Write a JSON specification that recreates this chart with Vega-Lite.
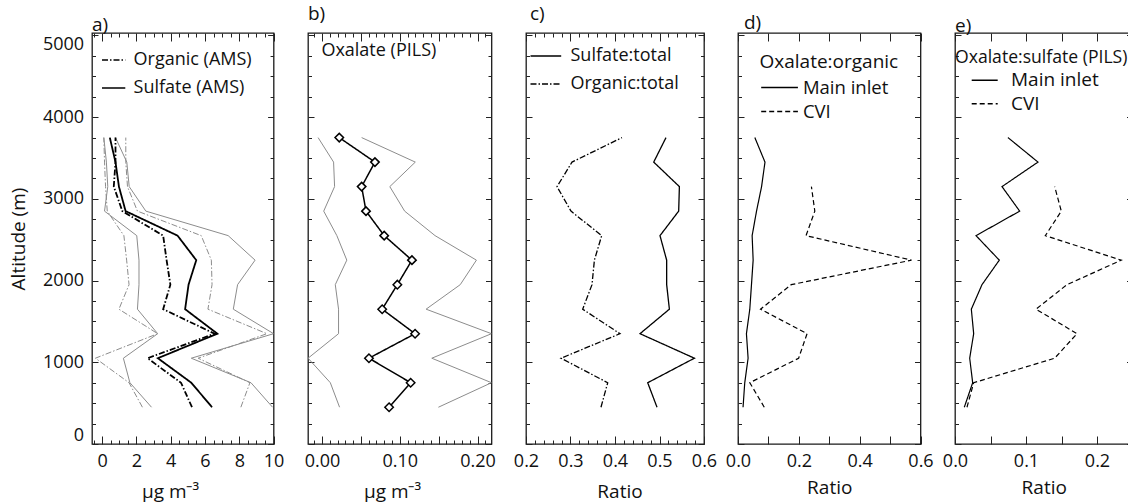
{
  "$schema": "https://vega.github.io/schema/vega-lite/v6.json",
  "padding": {"left": 8, "top": 3, "right": 0, "bottom": 0},
  "config": {
    "font": "Open Sans",
    "view": {"stroke": "#1a1a1a", "strokeWidth": 1.3},
    "axis": {"domain": false, "grid": false, "labelFont": "Open Sans", "labelFontSize": 18, "labelColor": "#111", "titleFont": "Open Sans", "titleFontSize": 19, "titleFontWeight": "normal", "titleColor": "#111", "tickColor": "#222", "tickWidth": 1, "labelFlush": false, "labelOverlap": false},
    "legend": {"labelFont": "Open Sans", "titleFont": "Open Sans", "titleFontWeight": "normal", "titleColor": "#111", "labelColor": "#111", "labelLimit": 400, "titleLimit": 400, "padding": 0, "symbolFillColor": "transparent", "symbolStrokeColor": "black", "symbolStrokeWidth": 1.5},
    "title": {"font": "Open Sans", "fontSize": 19, "fontWeight": "normal", "anchor": "start", "color": "#111", "frame": "group"}
  },
  "spacing": 34,
  "bounds": "flush",
  "resolve": {"scale": {"strokeDash": "independent"}, "legend": {"strokeDash": "independent"}},
  "datasets": {
    "a": [
      {"alt": 3750, "series": "Sulfate (AMS)", "stat": "mean", "v": 0.45},
      {"alt": 3450, "series": "Sulfate (AMS)", "stat": "mean", "v": 0.78},
      {"alt": 3150, "series": "Sulfate (AMS)", "stat": "mean", "v": 0.98},
      {"alt": 2850, "series": "Sulfate (AMS)", "stat": "mean", "v": 1.37},
      {"alt": 2550, "series": "Sulfate (AMS)", "stat": "mean", "v": 4.4},
      {"alt": 2250, "series": "Sulfate (AMS)", "stat": "mean", "v": 5.49},
      {"alt": 1950, "series": "Sulfate (AMS)", "stat": "mean", "v": 5.04},
      {"alt": 1650, "series": "Sulfate (AMS)", "stat": "mean", "v": 4.84},
      {"alt": 1350, "series": "Sulfate (AMS)", "stat": "mean", "v": 6.72},
      {"alt": 1050, "series": "Sulfate (AMS)", "stat": "mean", "v": 3.25},
      {"alt": 750, "series": "Sulfate (AMS)", "stat": "mean", "v": 5.2},
      {"alt": 450, "series": "Sulfate (AMS)", "stat": "mean", "v": 6.41},
      {"alt": 3750, "series": "Sulfate (AMS)", "stat": "hi", "v": 0.78},
      {"alt": 3450, "series": "Sulfate (AMS)", "stat": "hi", "v": 1.44},
      {"alt": 3150, "series": "Sulfate (AMS)", "stat": "hi", "v": 1.58},
      {"alt": 2850, "series": "Sulfate (AMS)", "stat": "hi", "v": 2.55},
      {"alt": 2550, "series": "Sulfate (AMS)", "stat": "hi", "v": 7.35},
      {"alt": 2250, "series": "Sulfate (AMS)", "stat": "hi", "v": 8.92},
      {"alt": 1950, "series": "Sulfate (AMS)", "stat": "hi", "v": 7.9},
      {"alt": 1650, "series": "Sulfate (AMS)", "stat": "hi", "v": 7.65},
      {"alt": 1350, "series": "Sulfate (AMS)", "stat": "hi", "v": 10.0},
      {"alt": 1050, "series": "Sulfate (AMS)", "stat": "hi", "v": 5.2},
      {"alt": 750, "series": "Sulfate (AMS)", "stat": "hi", "v": 8.68},
      {"alt": 450, "series": "Sulfate (AMS)", "stat": "hi", "v": 9.94},
      {"alt": 3750, "series": "Sulfate (AMS)", "stat": "lo", "v": 0.1},
      {"alt": 3450, "series": "Sulfate (AMS)", "stat": "lo", "v": 0.25},
      {"alt": 3150, "series": "Sulfate (AMS)", "stat": "lo", "v": 0.33},
      {"alt": 2850, "series": "Sulfate (AMS)", "stat": "lo", "v": 0.14},
      {"alt": 2550, "series": "Sulfate (AMS)", "stat": "lo", "v": 2.02},
      {"alt": 2250, "series": "Sulfate (AMS)", "stat": "lo", "v": 2.15},
      {"alt": 1950, "series": "Sulfate (AMS)", "stat": "lo", "v": 2.15},
      {"alt": 1650, "series": "Sulfate (AMS)", "stat": "lo", "v": 2.06},
      {"alt": 1350, "series": "Sulfate (AMS)", "stat": "lo", "v": 3.24},
      {"alt": 1050, "series": "Sulfate (AMS)", "stat": "lo", "v": 1.24},
      {"alt": 750, "series": "Sulfate (AMS)", "stat": "lo", "v": 1.62},
      {"alt": 450, "series": "Sulfate (AMS)", "stat": "lo", "v": 2.88},
      {"alt": 3750, "series": "Organic (AMS)", "stat": "mean", "v": 0.78},
      {"alt": 3450, "series": "Organic (AMS)", "stat": "mean", "v": 0.78},
      {"alt": 3150, "series": "Organic (AMS)", "stat": "mean", "v": 0.68},
      {"alt": 2850, "series": "Organic (AMS)", "stat": "mean", "v": 1.18},
      {"alt": 2550, "series": "Organic (AMS)", "stat": "mean", "v": 3.56},
      {"alt": 2250, "series": "Organic (AMS)", "stat": "mean", "v": 3.76},
      {"alt": 1950, "series": "Organic (AMS)", "stat": "mean", "v": 3.98},
      {"alt": 1650, "series": "Organic (AMS)", "stat": "mean", "v": 3.56},
      {"alt": 1350, "series": "Organic (AMS)", "stat": "mean", "v": 6.56},
      {"alt": 1050, "series": "Organic (AMS)", "stat": "mean", "v": 2.65},
      {"alt": 750, "series": "Organic (AMS)", "stat": "mean", "v": 4.6},
      {"alt": 450, "series": "Organic (AMS)", "stat": "mean", "v": 5.24},
      {"alt": 3750, "series": "Organic (AMS)", "stat": "hi", "v": 1.38},
      {"alt": 3450, "series": "Organic (AMS)", "stat": "hi", "v": 1.38},
      {"alt": 3150, "series": "Organic (AMS)", "stat": "hi", "v": 1.48},
      {"alt": 2850, "series": "Organic (AMS)", "stat": "hi", "v": 2.06},
      {"alt": 2550, "series": "Organic (AMS)", "stat": "hi", "v": 5.78},
      {"alt": 2250, "series": "Organic (AMS)", "stat": "hi", "v": 6.37},
      {"alt": 1950, "series": "Organic (AMS)", "stat": "hi", "v": 6.41},
      {"alt": 1650, "series": "Organic (AMS)", "stat": "hi", "v": 6.17},
      {"alt": 1350, "series": "Organic (AMS)", "stat": "hi", "v": 9.61},
      {"alt": 1050, "series": "Organic (AMS)", "stat": "hi", "v": 5.6},
      {"alt": 750, "series": "Organic (AMS)", "stat": "hi", "v": 8.62},
      {"alt": 450, "series": "Organic (AMS)", "stat": "hi", "v": 8.09},
      {"alt": 3750, "series": "Organic (AMS)", "stat": "lo", "v": 0.1},
      {"alt": 3450, "series": "Organic (AMS)", "stat": "lo", "v": 0.14},
      {"alt": 3150, "series": "Organic (AMS)", "stat": "lo", "v": 0.2},
      {"alt": 2850, "series": "Organic (AMS)", "stat": "lo", "v": 0.3},
      {"alt": 2550, "series": "Organic (AMS)", "stat": "lo", "v": 1.27},
      {"alt": 2250, "series": "Organic (AMS)", "stat": "lo", "v": 1.43},
      {"alt": 1950, "series": "Organic (AMS)", "stat": "lo", "v": 1.57},
      {"alt": 1650, "series": "Organic (AMS)", "stat": "lo", "v": 0.98},
      {"alt": 1350, "series": "Organic (AMS)", "stat": "lo", "v": 3.24},
      {"alt": 1050, "series": "Organic (AMS)", "stat": "lo", "v": -0.39},
      {"alt": 750, "series": "Organic (AMS)", "stat": "lo", "v": 1.57},
      {"alt": 450, "series": "Organic (AMS)", "stat": "lo", "v": 2.35}
    ],
    "b": [
      {"alt": 3750, "series": "Oxalate (PILS)", "stat": "mean", "v": 0.0222},
      {"alt": 3450, "series": "Oxalate (PILS)", "stat": "mean", "v": 0.0681},
      {"alt": 3150, "series": "Oxalate (PILS)", "stat": "mean", "v": 0.051},
      {"alt": 2850, "series": "Oxalate (PILS)", "stat": "mean", "v": 0.0566},
      {"alt": 2550, "series": "Oxalate (PILS)", "stat": "mean", "v": 0.08},
      {"alt": 2250, "series": "Oxalate (PILS)", "stat": "mean", "v": 0.1157},
      {"alt": 1950, "series": "Oxalate (PILS)", "stat": "mean", "v": 0.0969},
      {"alt": 1650, "series": "Oxalate (PILS)", "stat": "mean", "v": 0.0774},
      {"alt": 1350, "series": "Oxalate (PILS)", "stat": "mean", "v": 0.1197},
      {"alt": 1050, "series": "Oxalate (PILS)", "stat": "mean", "v": 0.0604},
      {"alt": 750, "series": "Oxalate (PILS)", "stat": "mean", "v": 0.114},
      {"alt": 450, "series": "Oxalate (PILS)", "stat": "mean", "v": 0.0863},
      {"alt": 3750, "series": "Oxalate (PILS)", "stat": "lo", "v": -0.005},
      {"alt": 3450, "series": "Oxalate (PILS)", "stat": "lo", "v": 0.0149},
      {"alt": 3150, "series": "Oxalate (PILS)", "stat": "lo", "v": 0.0162},
      {"alt": 2850, "series": "Oxalate (PILS)", "stat": "lo", "v": 0.0022},
      {"alt": 2550, "series": "Oxalate (PILS)", "stat": "lo", "v": 0.0191},
      {"alt": 2250, "series": "Oxalate (PILS)", "stat": "lo", "v": 0.0319},
      {"alt": 1950, "series": "Oxalate (PILS)", "stat": "lo", "v": 0.0171},
      {"alt": 1650, "series": "Oxalate (PILS)", "stat": "lo", "v": 0.0213},
      {"alt": 1350, "series": "Oxalate (PILS)", "stat": "lo", "v": 0.0213},
      {"alt": 1050, "series": "Oxalate (PILS)", "stat": "lo", "v": -0.0179},
      {"alt": 750, "series": "Oxalate (PILS)", "stat": "lo", "v": 0.0107},
      {"alt": 450, "series": "Oxalate (PILS)", "stat": "lo", "v": 0.0226},
      {"alt": 3750, "series": "Oxalate (PILS)", "stat": "hi", "v": 0.051},
      {"alt": 3450, "series": "Oxalate (PILS)", "stat": "hi", "v": 0.12},
      {"alt": 3150, "series": "Oxalate (PILS)", "stat": "hi", "v": 0.0872},
      {"alt": 2850, "series": "Oxalate (PILS)", "stat": "hi", "v": 0.1063},
      {"alt": 2550, "series": "Oxalate (PILS)", "stat": "hi", "v": 0.1454},
      {"alt": 2250, "series": "Oxalate (PILS)", "stat": "hi", "v": 0.1986},
      {"alt": 1950, "series": "Oxalate (PILS)", "stat": "hi", "v": 0.1778},
      {"alt": 1650, "series": "Oxalate (PILS)", "stat": "hi", "v": 0.1339},
      {"alt": 1350, "series": "Oxalate (PILS)", "stat": "hi", "v": 0.218},
      {"alt": 1050, "series": "Oxalate (PILS)", "stat": "hi", "v": 0.1412},
      {"alt": 750, "series": "Oxalate (PILS)", "stat": "hi", "v": 0.218},
      {"alt": 450, "series": "Oxalate (PILS)", "stat": "hi", "v": 0.1497}
    ],
    "c": [
      {"alt": 3750, "series": "Sulfate:total", "v": 0.5146},
      {"alt": 3450, "series": "Sulfate:total", "v": 0.487},
      {"alt": 3150, "series": "Sulfate:total", "v": 0.5447},
      {"alt": 2850, "series": "Sulfate:total", "v": 0.5431},
      {"alt": 2550, "series": "Sulfate:total", "v": 0.5011},
      {"alt": 2250, "series": "Sulfate:total", "v": 0.5161},
      {"alt": 1950, "series": "Sulfate:total", "v": 0.5161},
      {"alt": 1650, "series": "Sulfate:total", "v": 0.5222},
      {"alt": 1350, "series": "Sulfate:total", "v": 0.4562},
      {"alt": 1050, "series": "Sulfate:total", "v": 0.5784},
      {"alt": 750, "series": "Sulfate:total", "v": 0.4735},
      {"alt": 450, "series": "Sulfate:total", "v": 0.4944},
      {"alt": 3750, "series": "Organic:total", "v": 0.4157},
      {"alt": 3450, "series": "Organic:total", "v": 0.3034},
      {"alt": 3150, "series": "Organic:total", "v": 0.2697},
      {"alt": 2850, "series": "Organic:total", "v": 0.3011},
      {"alt": 2550, "series": "Organic:total", "v": 0.3701},
      {"alt": 2250, "series": "Organic:total", "v": 0.3537},
      {"alt": 1950, "series": "Organic:total", "v": 0.3483},
      {"alt": 1650, "series": "Organic:total", "v": 0.3274},
      {"alt": 1350, "series": "Organic:total", "v": 0.4112},
      {"alt": 1050, "series": "Organic:total", "v": 0.2787},
      {"alt": 750, "series": "Organic:total", "v": 0.3836},
      {"alt": 450, "series": "Organic:total", "v": 0.3685}
    ],
    "d": [
      {"alt": 3750, "series": "Main inlet", "v": 0.0554},
      {"alt": 3450, "series": "Main inlet", "v": 0.0887},
      {"alt": 3150, "series": "Main inlet", "v": 0.0775},
      {"alt": 2850, "series": "Main inlet", "v": 0.0609},
      {"alt": 2550, "series": "Main inlet", "v": 0.0465},
      {"alt": 2250, "series": "Main inlet", "v": 0.0498},
      {"alt": 1950, "series": "Main inlet", "v": 0.0443},
      {"alt": 1650, "series": "Main inlet", "v": 0.0388},
      {"alt": 1350, "series": "Main inlet", "v": 0.0277},
      {"alt": 1050, "series": "Main inlet", "v": 0.0332},
      {"alt": 750, "series": "Main inlet", "v": 0.0222},
      {"alt": 450, "series": "Main inlet", "v": 0.0166},
      {"alt": 3150, "series": "CVI", "v": 0.2414},
      {"alt": 2850, "series": "CVI", "v": 0.2525},
      {"alt": 2550, "series": "CVI", "v": 0.2237},
      {"alt": 2250, "series": "CVI", "v": 0.5704},
      {"alt": 1950, "series": "CVI", "v": 0.175},
      {"alt": 1650, "series": "CVI", "v": 0.0741},
      {"alt": 1350, "series": "CVI", "v": 0.227},
      {"alt": 1050, "series": "CVI", "v": 0.1993},
      {"alt": 750, "series": "CVI", "v": 0.0388},
      {"alt": 450, "series": "CVI", "v": 0.0864}
    ],
    "e": [
      {"alt": 3750, "series": "Main inlet", "v": 0.0746},
      {"alt": 3450, "series": "Main inlet", "v": 0.1169},
      {"alt": 3150, "series": "Main inlet", "v": 0.0662},
      {"alt": 2850, "series": "Main inlet", "v": 0.0911},
      {"alt": 2550, "series": "Main inlet", "v": 0.0296},
      {"alt": 2250, "series": "Main inlet", "v": 0.0624},
      {"alt": 1950, "series": "Main inlet", "v": 0.038},
      {"alt": 1650, "series": "Main inlet", "v": 0.023},
      {"alt": 1350, "series": "Main inlet", "v": 0.0263},
      {"alt": 1050, "series": "Main inlet", "v": 0.0207},
      {"alt": 750, "series": "Main inlet", "v": 0.0249},
      {"alt": 450, "series": "Main inlet", "v": 0.0131},
      {"alt": 3150, "series": "CVI", "v": 0.1404},
      {"alt": 2850, "series": "CVI", "v": 0.1497},
      {"alt": 2550, "series": "CVI", "v": 0.1272},
      {"alt": 2250, "series": "CVI", "v": 0.2342},
      {"alt": 1950, "series": "CVI", "v": 0.1577},
      {"alt": 1650, "series": "CVI", "v": 0.1141},
      {"alt": 1350, "series": "CVI", "v": 0.1718},
      {"alt": 1050, "series": "CVI", "v": 0.1404},
      {"alt": 750, "series": "CVI", "v": 0.0263},
      {"alt": 450, "series": "CVI", "v": 0.0169}
    ]
  },
  "hconcat": [
    {
      "width": 181.6, "height": 411,
      "title": {"text": "a)", "offset": -2.5},
      "data": {"name": "a"},
      "layer": [
        {
          "transform": [{"filter": "datum.series === 'Organic (AMS)' && datum.stat !== 'mean'"}],
          "mark": {"type": "line", "color": "#8c8c8c", "strokeWidth": 1, "strokeDash": [6, 2, 1.5, 2], "clip": true},
          "encoding": {
            "x": {"field": "v", "type": "quantitative", "scale": {"domain": [-0.59, 10], "nice": false, "zero": false},
              "axis": {"orient": "bottom", "values": [-0.5,0,0.5,1,1.5,2,2.5,3,3.5,4,4.5,5,5.5,6,6.5,7,7.5,8,8.5,9,9.5,10], "labelExpr": "datum.value % 2 === 0 ? '' + datum.value : ''", "tickSize": {"condition": {"test": "datum.value % 2 === 0", "value": -8}, "value": -4}, "labelPadding": 16.7, "title": "µg m⁻³", "titlePadding": 8, "titleX": 78}},
            "y": {"field": "alt", "type": "quantitative", "scale": {"domain": [0, 5030], "nice": false, "zero": false},
              "axis": {"orient": "left", "values": [0,250,500,750,1000,1250,1500,1750,2000,2250,2500,2750,3000,3250,3500,3750,4000,4250,4500,4750,5000], "labelExpr": "datum.value % 1000 === 0 ? '' + datum.value : ''", "tickSize": {"condition": {"test": "datum.value % 1000 === 0", "value": -6}, "value": -3.5}, "labelPadding": 14.4, "labelFlush": 5, "title": "Altitude (m)", "titlePadding": 14}},
            "detail": {"field": "stat"},
            "order": {"field": "alt", "type": "quantitative"}
          }
        },
        {
          "transform": [{"filter": "datum.series === 'Sulfate (AMS)' && datum.stat !== 'mean'"}],
          "mark": {"type": "line", "color": "#8c8c8c", "strokeWidth": 1, "clip": true},
          "encoding": {
            "x": {"field": "v", "type": "quantitative", "axis": null},
            "y": {"field": "alt", "type": "quantitative", "axis": null},
            "detail": {"field": "stat"},
            "order": {"field": "alt", "type": "quantitative"}
          }
        },
        {
          "transform": [{"filter": "datum.stat === 'mean'"}],
          "mark": {"type": "line", "color": "black", "strokeWidth": 1.8, "clip": true},
          "encoding": {
            "x": {"field": "v", "type": "quantitative",
              "axis": {"orient": "top", "values": [-0.5,0,0.5,1,1.5,2,2.5,3,3.5,4,4.5,5,5.5,6,6.5,7,7.5,8,8.5,9,9.5,10], "labels": false, "title": null, "tickSize": {"condition": {"test": "datum.value % 2 === 0", "value": -8}, "value": -4}}},
            "y": {"field": "alt", "type": "quantitative",
              "axis": {"orient": "right", "values": [0,250,500,750,1000,1250,1500,1750,2000,2250,2500,2750,3000,3250,3500,3750,4000,4250,4500,4750,5000], "labels": false, "title": null, "tickSize": {"condition": {"test": "datum.value % 1000 === 0", "value": -6}, "value": -3.5}}},
            "strokeDash": {"field": "series", "type": "nominal", "scale": {"domain": ["Organic (AMS)", "Sulfate (AMS)"], "range": [[6, 2, 1.5, 2], [1, 0]]},
              "legend": {"orient": "none", "legendX": 0, "legendY": 18, "title": null, "symbolType": "M-2,0H2", "symbolSize": 135.7, "symbolOffset": 12.65, "labelOffset": 10.95, "labelFontSize": 18, "rowPadding": 10}},
            "order": {"field": "alt", "type": "quantitative"}
          }
        }
      ],
      "resolve": {"axis": {"x": "independent", "y": "independent"}}
    },
    {
      "width": 183.5, "height": 411,
      "title": {"text": "b)", "offset": 9},
      "data": {"name": "b"},
      "layer": [
        {
          "transform": [{"filter": "datum.stat !== 'mean'"}],
          "mark": {"type": "line", "color": "#8c8c8c", "strokeWidth": 1, "clip": true},
          "encoding": {
            "x": {"field": "v", "type": "quantitative", "scale": {"domain": [-0.018, 0.218], "nice": false, "zero": false},
              "axis": {"orient": "bottom", "values": [-0.01,0,0.01,0.02,0.03,0.04,0.05,0.06,0.07,0.08,0.09,0.1,0.11,0.12,0.13,0.14,0.15,0.16,0.17,0.18,0.19,0.2,0.21], "labelExpr": "round(datum.value*100) % 10 === 0 ? format(datum.value, '.2f') : ''", "tickSize": {"condition": {"test": "round(datum.value*100) % 5 === 0", "value": -8}, "value": -4}, "labelPadding": 16.7, "title": "µg m⁻³", "titlePadding": 8, "titleX": 84}},
            "y": {"field": "alt", "type": "quantitative", "scale": {"domain": [0, 5030], "nice": false, "zero": false},
              "axis": {"orient": "left", "values": [0,250,500,750,1000,1250,1500,1750,2000,2250,2500,2750,3000,3250,3500,3750,4000,4250,4500,4750,5000], "labels": false, "title": null, "tickSize": {"condition": {"test": "datum.value % 1000 === 0", "value": -6}, "value": -3.5}}},
            "detail": {"field": "stat"},
            "order": {"field": "alt", "type": "quantitative"}
          }
        },
        {
          "transform": [{"filter": "datum.stat === 'mean'"}],
          "mark": {"type": "line", "color": "black", "strokeWidth": 1.5, "clip": true},
          "encoding": {
            "x": {"field": "v", "type": "quantitative", "axis": null},
            "y": {"field": "alt", "type": "quantitative", "axis": null},
            "strokeDash": {"field": "series", "type": "nominal", "scale": {"domain": ["Oxalate (PILS)"], "range": [[1, 0]]},
              "legend": {"orient": "none", "legendX": 0, "legendY": 9, "title": null, "symbolSize": 1, "symbolOpacity": 0, "labelOffset": -4.6, "labelFontSize": 18}},
            "order": {"field": "alt", "type": "quantitative"}
          }
        },
        {
          "transform": [{"filter": "datum.stat === 'mean'"}],
          "mark": {"type": "point", "shape": "diamond", "size": 72, "filled": true, "fill": "white", "stroke": "black", "strokeWidth": 1.5, "opacity": 1},
          "encoding": {
            "x": {"field": "v", "type": "quantitative",
              "axis": {"orient": "top", "values": [-0.01,0,0.01,0.02,0.03,0.04,0.05,0.06,0.07,0.08,0.09,0.1,0.11,0.12,0.13,0.14,0.15,0.16,0.17,0.18,0.19,0.2,0.21], "labels": false, "title": null, "tickSize": {"condition": {"test": "round(datum.value*100) % 5 === 0", "value": -8}, "value": -4}}},
            "y": {"field": "alt", "type": "quantitative",
              "axis": {"orient": "right", "values": [0,250,500,750,1000,1250,1500,1750,2000,2250,2500,2750,3000,3250,3500,3750,4000,4250,4500,4750,5000], "labels": false, "title": null, "tickSize": {"condition": {"test": "datum.value % 1000 === 0", "value": -6}, "value": -3.5}}}
          }
        }
      ],
      "resolve": {"axis": {"x": "independent", "y": "independent"}}
    },
    {
      "width": 178, "height": 411,
      "title": {"text": "c)", "offset": 9, "dx": 4},
      "data": {"name": "c"},
      "layer": [
        {
          "mark": {"type": "line", "color": "black", "strokeWidth": 1.3, "clip": true},
          "encoding": {
            "x": {"field": "v", "type": "quantitative", "scale": {"domain": [0.2, 0.6], "nice": false, "zero": false},
              "axis": {"orient": "bottom", "values": [0.2,0.22,0.24,0.26,0.28,0.3,0.32,0.34,0.36,0.38,0.4,0.42,0.44,0.46,0.48,0.5,0.52,0.54,0.56,0.58,0.6], "labelExpr": "round(datum.value*100) % 10 === 0 ? format(datum.value, '.1f') : ''", "tickSize": {"condition": {"test": "round(datum.value*100) % 10 === 0", "value": -8}, "value": -4}, "labelPadding": 16.7, "title": "Ratio", "titlePadding": 8, "titleX": 93.5}},
            "y": {"field": "alt", "type": "quantitative", "scale": {"domain": [0, 5030], "nice": false, "zero": false},
              "axis": {"orient": "left", "values": [0,250,500,750,1000,1250,1500,1750,2000,2250,2500,2750,3000,3250,3500,3750,4000,4250,4500,4750,5000], "labels": false, "title": null, "tickSize": {"condition": {"test": "datum.value % 1000 === 0", "value": -6}, "value": -3.5}}},
            "strokeDash": {"field": "series", "type": "nominal", "scale": {"domain": ["Sulfate:total", "Organic:total"], "range": [[1, 0], [6, 2, 1.5, 2]]},
              "legend": {"orient": "none", "legendX": 0, "legendY": 14, "title": null, "symbolType": "M-2,0H2", "symbolSize": 235.6, "symbolOffset": 10.85, "labelOffset": 15.65, "labelFontSize": 18, "rowPadding": 10}},
            "order": {"field": "alt", "type": "quantitative"}
          }
        },
        {
          "mark": {"type": "line", "strokeOpacity": 0},
          "encoding": {
            "x": {"field": "v", "type": "quantitative",
              "axis": {"orient": "top", "values": [0.2,0.22,0.24,0.26,0.28,0.3,0.32,0.34,0.36,0.38,0.4,0.42,0.44,0.46,0.48,0.5,0.52,0.54,0.56,0.58,0.6], "labels": false, "title": null, "tickSize": {"condition": {"test": "round(datum.value*100) % 10 === 0", "value": -8}, "value": -4}}},
            "y": {"field": "alt", "type": "quantitative",
              "axis": {"orient": "right", "values": [0,250,500,750,1000,1250,1500,1750,2000,2250,2500,2750,3000,3250,3500,3750,4000,4250,4500,4750,5000], "labels": false, "title": null, "tickSize": {"condition": {"test": "datum.value % 1000 === 0", "value": -6}, "value": -3.5}}},
            "detail": {"field": "series"}
          }
        }
      ],
      "resolve": {"axis": {"x": "independent", "y": "independent"}}
    },
    {
      "width": 182.5, "height": 411,
      "title": {"text": "d)", "offset": -0.5, "dx": 6},
      "data": {"name": "d"},
      "layer": [
        {
          "mark": {"type": "line", "color": "black", "strokeWidth": 1.2, "clip": true},
          "encoding": {
            "x": {"field": "v", "type": "quantitative", "scale": {"domain": [0, 0.6], "nice": false, "zero": false},
              "axis": {"orient": "bottom", "values": [0,0.1,0.2,0.3,0.4,0.5,0.6], "labelExpr": "round(datum.value*10) % 2 === 0 ? format(datum.value, '.1f') : ''", "tickSize": -8, "labelPadding": 16.7, "title": "Ratio", "titlePadding": 8}},
            "y": {"field": "alt", "type": "quantitative", "scale": {"domain": [0, 5030], "nice": false, "zero": false},
              "axis": {"orient": "left", "values": [0,250,500,750,1000,1250,1500,1750,2000,2250,2500,2750,3000,3250,3500,3750,4000,4250,4500,4750,5000], "labels": false, "title": null, "tickSize": {"condition": {"test": "datum.value % 1000 === 0", "value": -6}, "value": -3.5}}},
            "strokeDash": {"field": "series", "type": "nominal", "scale": {"domain": ["Main inlet", "CVI"], "range": [[1, 0], [5, 3]]},
              "legend": {"orient": "none", "legendX": 21.5, "legendY": 19.8, "title": "Oxalate:organic", "titleFontSize": 19, "titlePadding": 5.7, "symbolType": "M-2,0H2", "symbolSize": 337, "symbolOffset": 10.05, "labelOffset": 13.35, "labelFontSize": 18.5, "rowPadding": 4}},
            "order": {"field": "alt", "type": "quantitative"}
          }
        },
        {
          "mark": {"type": "line", "strokeOpacity": 0},
          "encoding": {
            "x": {"field": "v", "type": "quantitative",
              "axis": {"orient": "top", "values": [0,0.1,0.2,0.3,0.4,0.5,0.6], "labels": false, "title": null, "tickSize": -8}},
            "y": {"field": "alt", "type": "quantitative",
              "axis": {"orient": "right", "values": [0,250,500,750,1000,1250,1500,1750,2000,2250,2500,2750,3000,3250,3500,3750,4000,4250,4500,4750,5000], "labels": false, "title": null, "tickSize": {"condition": {"test": "datum.value % 1000 === 0", "value": -6}, "value": -3.5}}},
            "detail": {"field": "series"}
          }
        }
      ],
      "resolve": {"axis": {"x": "independent", "y": "independent"}}
    },
    {
      "width": 177.5, "height": 411,
      "title": {"text": "e)", "offset": -3.5},
      "data": {"name": "e"},
      "layer": [
        {
          "mark": {"type": "line", "color": "black", "strokeWidth": 1.2, "clip": true},
          "encoding": {
            "x": {"field": "v", "type": "quantitative", "scale": {"domain": [0, 0.25], "nice": false, "zero": false},
              "axis": {"orient": "bottom", "values": [0,0.05,0.1,0.15,0.2,0.25], "labelExpr": "round(datum.value*100) % 10 === 0 ? format(datum.value, '.1f') : ''", "tickSize": -8, "labelPadding": 16.7, "title": "Ratio", "titlePadding": 8}},
            "y": {"field": "alt", "type": "quantitative", "scale": {"domain": [0, 5030], "nice": false, "zero": false},
              "axis": {"orient": "left", "values": [0,250,500,750,1000,1250,1500,1750,2000,2250,2500,2750,3000,3250,3500,3750,4000,4250,4500,4750,5000], "labels": false, "title": null, "tickSize": {"condition": {"test": "datum.value % 1000 === 0", "value": -6}, "value": -3.5}}},
            "strokeDash": {"field": "series", "type": "nominal", "scale": {"domain": ["Main inlet", "CVI"], "range": [[1, 0], [5, 3]]},
              "legend": {"orient": "none", "legendX": 0, "legendY": 16.3, "title": "Oxalate:sulfate (PILS)", "titleFontSize": 17.6, "titlePadding": 3.8, "symbolType": "M-2,0H2", "symbolSize": 169, "symbolOffset": 20.2, "labelOffset": 16.8, "labelFontSize": 19, "rowPadding": 3.5}},
            "order": {"field": "alt", "type": "quantitative"}
          }
        },
        {
          "mark": {"type": "line", "strokeOpacity": 0},
          "encoding": {
            "x": {"field": "v", "type": "quantitative",
              "axis": {"orient": "top", "values": [0,0.05,0.1,0.15,0.2,0.25], "labels": false, "title": null, "tickSize": -8}},
            "y": {"field": "alt", "type": "quantitative",
              "axis": {"orient": "right", "values": [0,250,500,750,1000,1250,1500,1750,2000,2250,2500,2750,3000,3250,3500,3750,4000,4250,4500,4750,5000], "labels": false, "title": null, "tickSize": {"condition": {"test": "datum.value % 1000 === 0", "value": -6}, "value": -3.5}}},
            "detail": {"field": "series"}
          }
        }
      ],
      "resolve": {"axis": {"x": "independent", "y": "independent"}}
    }
  ]
}
